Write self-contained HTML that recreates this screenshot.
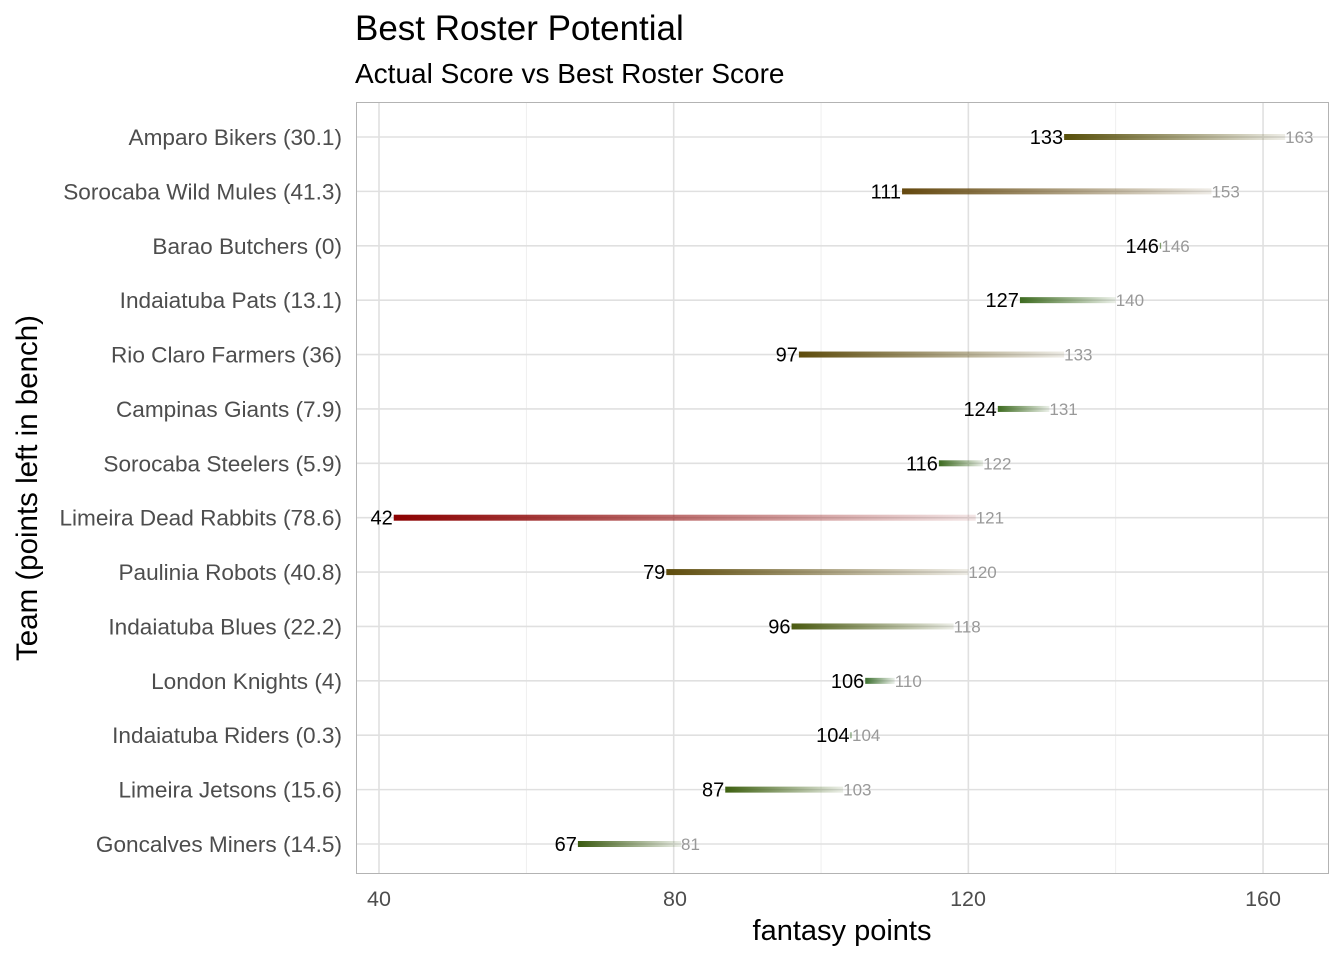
<!DOCTYPE html>
<html><head><meta charset="utf-8"><style>body{margin:0;background:#fff}svg{display:block;font-family:"Liberation Sans",Arial,sans-serif}</style></head>
<body>
<svg width="1344" height="960" viewBox="0 0 1344 960" xmlns="http://www.w3.org/2000/svg">
<defs id="d"></defs>
<text x="355" y="40" font-size="35" fill="#000">Best Roster Potential</text>
<text x="355" y="83" font-size="28" fill="#000">Actual Score vs Best Roster Score</text>
<g id="grid" stroke="#ebebeb"></g>
<rect x="356.5" y="102.5" width="972" height="771" fill="none" stroke="#b3b3b3" stroke-width="1"/>
<g id="bars"></g>
<g font-size="21.5" fill="#4d4d4d" text-anchor="middle">
<text x="379" y="906">40</text><text x="675" y="906">80</text><text x="968" y="906">120</text><text x="1263" y="906">160</text>
</g>
<text x="842" y="940" font-size="29" text-anchor="middle" fill="#000">fantasy points</text>
<text transform="translate(37,488) rotate(-90)" font-size="29.5" text-anchor="middle" fill="#000">Team (points left in bench)</text>
<g id="labels" font-size="22.6" fill="#4d4d4d" text-anchor="end"></g>
</svg>
<script>
var X=v=>379+(v-40)*7.367;
var rows=[["Amparo Bikers (30.1)",133,163,"#574f0a"],["Sorocaba Wild Mules (41.3)",111,153,"#64480e"],["Barao Butchers (0)",146,146,"#3d6b20"],["Indaiatuba Pats (13.1)",127,140,"#3d6b20"],["Rio Claro Farmers (36)",97,133,"#5e4c0c"],["Campinas Giants (7.9)",124,131,"#3d6b20"],["Sorocaba Steelers (5.9)",116,122,"#3d6b20"],["Limeira Dead Rabbits (78.6)",42,121,"#8b0000"],["Paulinia Robots (40.8)",79,120,"#5e4c0c"],["Indaiatuba Blues (22.2)",96,118,"#4a5a10"],["London Knights (4)",106,110,"#3d7030"],["Indaiatuba Riders (0.3)",104,104,"#3d7030"],["Limeira Jetsons (15.6)",87,103,"#3d6010"],["Goncalves Miners (14.5)",67,81,"#3a5a10"]];
var ns="http://www.w3.org/2000/svg",g=document.getElementById("grid"),b=document.getElementById("bars"),l=document.getElementById("labels"),d=document.getElementById("d");
function el(t,a,p,txt){var e=document.createElementNS(ns,t);for(var k in a)e.setAttribute(k,a[k]);if(txt!=null)e.textContent=txt;p.appendChild(e);return e;}
[60,100,140].forEach(v=>el("line",{x1:X(v),x2:X(v),y1:103,y2:873,"stroke-width":0.8},g));
[40,80,120,160].forEach(v=>el("line",{x1:X(v),x2:X(v),y1:103,y2:873,"stroke-width":1.6,stroke:"#e0e0e0"},g));
rows.forEach((r,i)=>{var y=137+i*54.385;
el("line",{x1:357,x2:1328,y1:y,y2:y,"stroke-width":1.6,stroke:"#e0e0e0"},g);
var lg=el("linearGradient",{id:"g"+i,x1:"0",x2:"1",y1:"0",y2:"0"},d);
el("stop",{offset:"0","stop-color":r[3],"stop-opacity":1},lg);el("stop",{offset:"1","stop-color":r[3],"stop-opacity":0.1},lg);
var x1=X(r[1]),x2=X(r[2]);if(x2-x1<1.5)x2=x1+1.5;
el("rect",{x:x1,y:y-3,width:x2-x1,height:6,fill:"url(#g"+i+")"},b);
el("text",{x:x1-1,y:y+7,"font-size":20,"text-anchor":"end",fill:"#000"},b,r[1]);
el("text",{x:x2,y:y+6,"font-size":17,fill:"#999"},b,r[2]);
el("text",{x:342,y:y+8},l,r[0]);});
</script>
</body></html>
